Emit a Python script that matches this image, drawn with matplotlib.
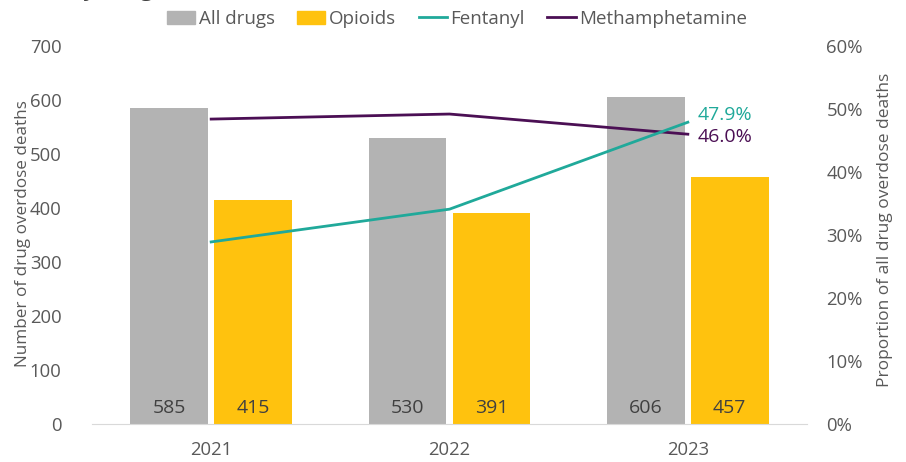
import numpy as np
from matplotlib import pyplot as plt
from matplotlib.patches import Patch
from matplotlib.lines import Line2D

plt.rcParams['font.family'] = ['Open Sans', 'DejaVu Sans']

years = ['2021', '2022', '2023']
all_drugs = [585, 530, 606]
opioids = [415, 391, 457]
# share of all drug overdose deaths, %
fentanyl = [28.9, 34.1, 47.9]
meth = [48.4, 49.2, 46.0]

grey = '#b3b3b3'
gold = '#ffc20e'
teal = '#20a99a'
purple = '#4b0f54'
txt = '#595959'

fig = plt.figure(figsize=(9.06, 4.62), dpi=100)
ax = fig.add_axes([92 / 906, 38 / 462, 715 / 906, 378 / 462])
ax2 = ax.twinx()

x = np.arange(len(years))
w = 0.325
off = 0.176
b1 = ax.bar(x - off, all_drugs, w, color=grey, zorder=2)
b2 = ax.bar(x + off, opioids, w, color=gold, zorder=2)

for bars, vals in ((b1, all_drugs), (b2, opioids)):
    for r, v in zip(bars, vals):
        ax.text(r.get_x() + r.get_width() / 2, 30, str(v), ha='center', va='center',
                fontsize=14, color='#404040')

ax2.plot(x, meth, color=purple, lw=2)
ax2.plot(x, fentanyl, color=teal, lw=2)
ax2.text(x[-1] + 0.04, fentanyl[-1] + 1.1, f'{fentanyl[-1]:.1f}%', color=teal,
         fontsize=14, ha='left', va='center')
ax2.text(x[-1] + 0.04, meth[-1] - 0.5, f'{meth[-1]:.1f}%', color=purple,
         fontsize=14, ha='left', va='center')

ax.set_xlim(-0.5, 2.5)
ax.set_ylim(0, 700)
ax.set_yticks(range(0, 701, 100))
ax2.set_ylim(0, 60)
ax2.set_yticks(range(0, 61, 10))
ax2.set_yticklabels([f'{t}%' for t in range(0, 61, 10)])
ax.set_xticks(x)
ax.set_xticklabels(years)

for a in (ax, ax2):
    for s in a.spines.values():
        s.set_visible(False)
    a.tick_params(length=0, labelsize=13.3, colors=txt)
ax.spines['bottom'].set_visible(True)
ax.spines['bottom'].set_color('#d9d9d9')
ax.tick_params(axis='x', pad=12)
ax.tick_params(axis='y', pad=22)
ax2.tick_params(axis='y', pad=14)

ax.set_ylabel('Number of drug overdose deaths', fontsize=12.3, color=txt)
ax.yaxis.set_label_coords(-0.086, 0.503)
ax2.set_ylabel('Proportion of all drug overdose deaths', fontsize=12.5, color=txt,
               rotation=90)
ax2.yaxis.set_label_coords(1.098, 0.513)

handles = [Patch(color=grey), Patch(color=gold),
           Line2D([], [], color=teal, lw=2), Line2D([], [], color=purple, lw=2)]
fig.legend(handles, ['All drugs', 'Opioids', 'Fentanyl', 'Methamphetamine'],
           loc='center', bbox_to_anchor=(457 / 906, 1 - 19 / 462), ncol=4, frameon=False,
           fontsize=13.5, labelcolor=txt, handlelength=1.5, handletextpad=0.2,
           columnspacing=1.2)

# title sits mostly above the canvas, only its descenders reach in
fig.text(257 / 906, 1 + 4 / 462, 'Overdose deaths by drug (2021-23)', fontsize=16,
         fontweight='bold', color='#404040', ha='right', va='baseline')

fig.savefig('out.png', dpi=100)
